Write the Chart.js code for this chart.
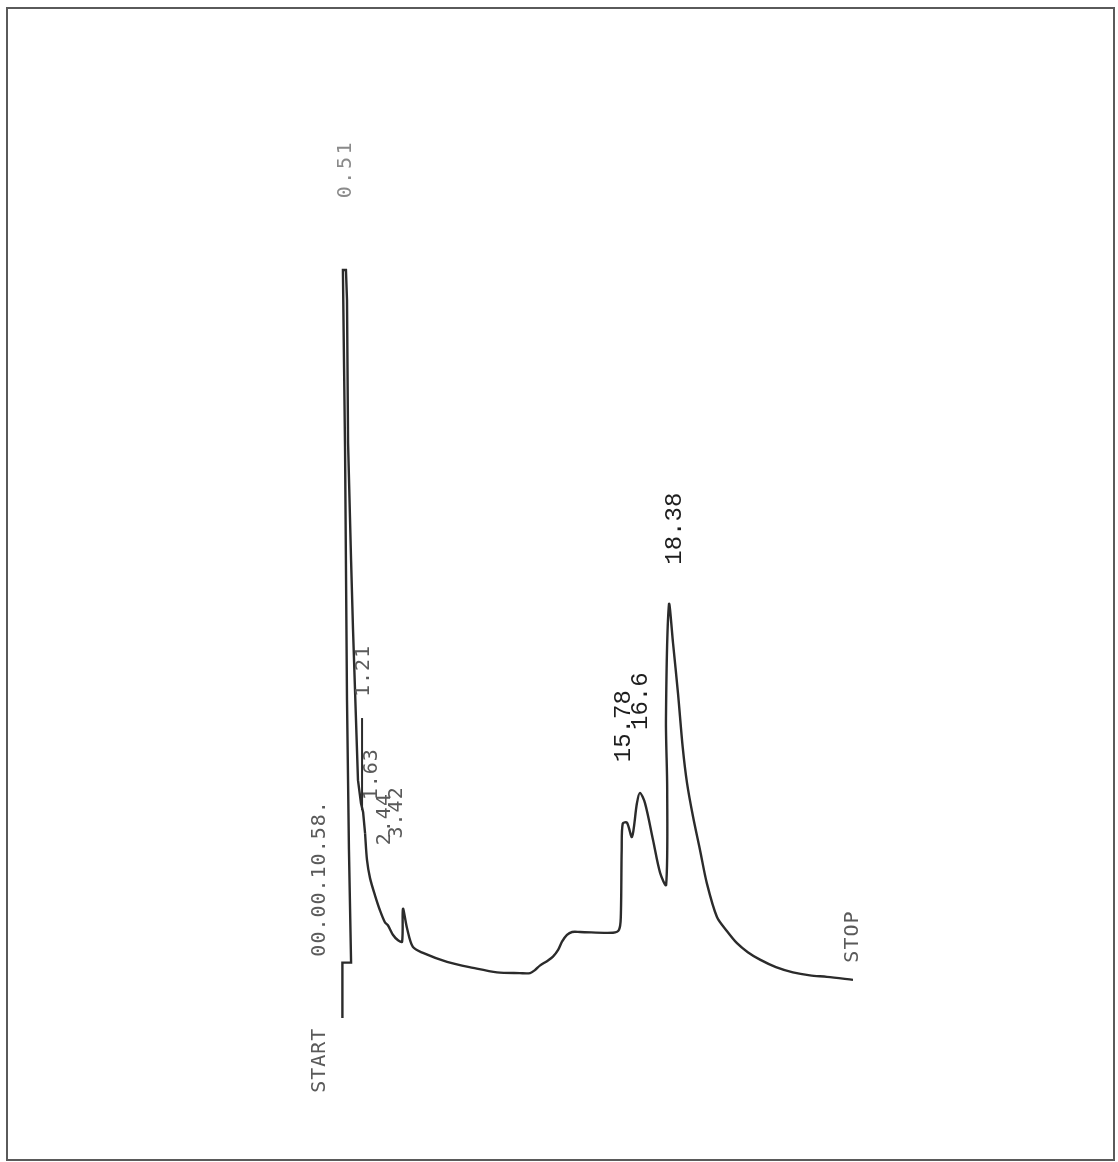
<!DOCTYPE html>
<html>
<head>
<meta charset="utf-8">
<title>Chromatogram</title>
<script src="https://cdn.jsdelivr.net/npm/chart.js@4/dist/chart.umd.min.js"></script>
<style>
  html, body { margin: 0; padding: 0; background: #fff; }
  canvas { display: block; }
</style>
</head>
<body>
<canvas id="chrom" width="1118" height="1162"></canvas>
<script>
// retention times printed by the integrator (min)
const retentionTimes = [0.51, 1.21, 1.63, 2.44, 3.42, 15.78, 16.6, 18.38];

// recorder trace, injection and solvent front: time (min), signal (% full scale)
const frontTime = [0.0, 0.0, 0.49, 0.37, 0.26, 0.15, 0.03, 0.03, 0.20, 0.26, 0.32, 0.49, 0.60, 0.88, 1.05, 1.17, 1.28];
const frontSignal = [0, 7.4, 7.4, 22.5, 42.5, 75.9, 99.7, 100, 100, 96.0, 76.9, 61.2, 51.9, 31.8, 28.7, 27.5, 24.7];

// rest of the run
const runTime = [
  1.28, 1.39, 1.56, 1.84, 2.12, 2.40, 2.57, 2.86, 3.14, 3.37,
  3.42, 3.65, 3.98, 4.55, 5.91, 7.38, 8.73, 10.02, 10.6, 10.87,
  11.15, 11.55, 11.89, 12.18, 12.40, 12.68, 12.97, 13.42, 15.28, 15.62,
  15.72, 15.77, 15.83, 16.07, 16.35, 16.63, 16.80, 17.09, 17.54, 17.94,
  18.28, 18.34, 18.27, 18.44, 18.67, 18.95, 19.22, 19.46, 19.80,
  20.19, 20.58, 21.15, 21.72, 22.28, 22.89, 23.58, 24.48, 25.44, 26.4,
  27.36, 28.83
];
const runSignal = [
  24.7, 21.1, 18.7, 16.4, 14.4, 12.8, 12.4, 11.1, 10.4, 10.2,
  14.6, 12.0, 9.5, 8.7, 7.5, 6.7, 6.1, 6.0, 6.0, 6.4,
  7.0, 7.6, 8.2, 9.1, 10.2, 11.1, 11.5, 11.5, 11.4, 11.8,
  13.5, 22.5, 26.0, 26.1, 24.2, 28.7, 30.1, 28.7, 23.8, 19.4,
  17.8, 30.5, 40.0, 55.3, 50.1, 43.4, 36.1, 31.4, 26.9,
  22.5, 18.0, 13.5, 11.6, 10.0, 8.8, 7.8, 6.8, 6.1, 5.7,
  5.5, 5.1
];

// integrator baseline marker
const markerTime = [1.11, 1.11];
const markerSignal = [27.8, 40.1];

const runStamp = '00.00.10.58.';
const stopTime = 28.8;

function toPoints(xs, ys) {
  return xs.map((x, i) => ({ x: x, y: ys[i] }));
}

// printed text: [text, time, signal, pixel nudge x, style]
const printed = [
  [retentionTimes[0].toFixed(2), retentionTimes[0], 109.6, -6, 'faint'],
  [retentionTimes[1].toFixed(2), retentionTimes[1], 42.9, 0, 'dot'],
  [retentionTimes[2].toFixed(2), retentionTimes[2], 29.1, 1, 'dot'],
  [retentionTimes[3].toFixed(2), retentionTimes[3], 23.1, -1, 'dot'],
  [retentionTimes[4].toFixed(2), retentionTimes[4], 24.0, -6, 'dot'],
  [retentionTimes[5].toFixed(2), retentionTimes[5], 34.2, 2, 'type'],
  [String(retentionTimes[6]), retentionTimes[6], 38.5, 4, 'type'],
  [retentionTimes[7].toFixed(2), retentionTimes[7], 60.6, 7, 'type'],
  [runStamp, -1.27, 8.2, 0, 'dot'],
  ['START', -1.27, -10.0, 0, 'dot'],
  ['STOP', stopTime, 7.4, 0, 'dot']
];

const textStyles = {
  faint: { font: '20px "DejaVu Sans Mono"', color: '#8a8a8a', spacing: '2.5px' },
  dot:   { font: '20px "DejaVu Sans Mono"', color: '#5a5a5a', spacing: '1px' },
  type:  { font: '24px "Liberation Mono"', color: '#1e1e1e', spacing: '0px' }
};

const printout = {
  id: 'printout',
  afterDatasetsDraw(chart) {
    const ctx = chart.ctx;
    const xs = chart.scales.x, ys = chart.scales.y;
    ctx.save();
    for (const [text, t, s, dx, style] of printed) {
      const st = textStyles[style];
      const px = xs.getPixelForValue(t) + dx;
      const py = ys.getPixelForValue(s);
      ctx.save();
      ctx.translate(px, py);
      ctx.rotate(-Math.PI / 2);
      ctx.font = st.font;
      ctx.letterSpacing = st.spacing;
      ctx.fillStyle = st.color;
      ctx.textAlign = 'left';
      ctx.textBaseline = 'middle';
      ctx.fillText(text, 0, 0);
      ctx.restore();
    }
    // page frame
    ctx.strokeStyle = '#5a5a5a';
    ctx.lineWidth = 2;
    ctx.strokeRect(7, 8, 1107, 1152);
    ctx.restore();
  }
};

const penColor = '#2b2b2b';

new Chart(document.getElementById('chrom').getContext('2d'), {
  type: 'line',
  data: {
    datasets: [{
      data: toPoints(frontTime, frontSignal),
      borderColor: penColor,
      borderWidth: 2.4,
      pointRadius: 0,
      tension: 0,
      clip: false
    }, {
      data: toPoints(runTime, runSignal),
      borderColor: penColor,
      borderWidth: 2.4,
      pointRadius: 0,
      tension: 0.3,
      clip: false
    }, {
      data: toPoints(markerTime, markerSignal),
      borderColor: penColor,
      borderWidth: 2,
      pointRadius: 0,
      clip: false
    }]
  },
  options: {
    responsive: false,
    devicePixelRatio: 1,
    animation: false,
    layout: {
      padding: { left: 342.4, right: 244.3, top: 270, bottom: 144 }
    },
    plugins: {
      legend: { display: false },
      tooltip: { enabled: false }
    },
    scales: {
      x: { type: 'linear', min: 0, max: 30, display: false },
      y: { type: 'linear', min: 0, max: 100, display: false }
    }
  },
  plugins: [printout]
});
</script>
</body>
</html>
